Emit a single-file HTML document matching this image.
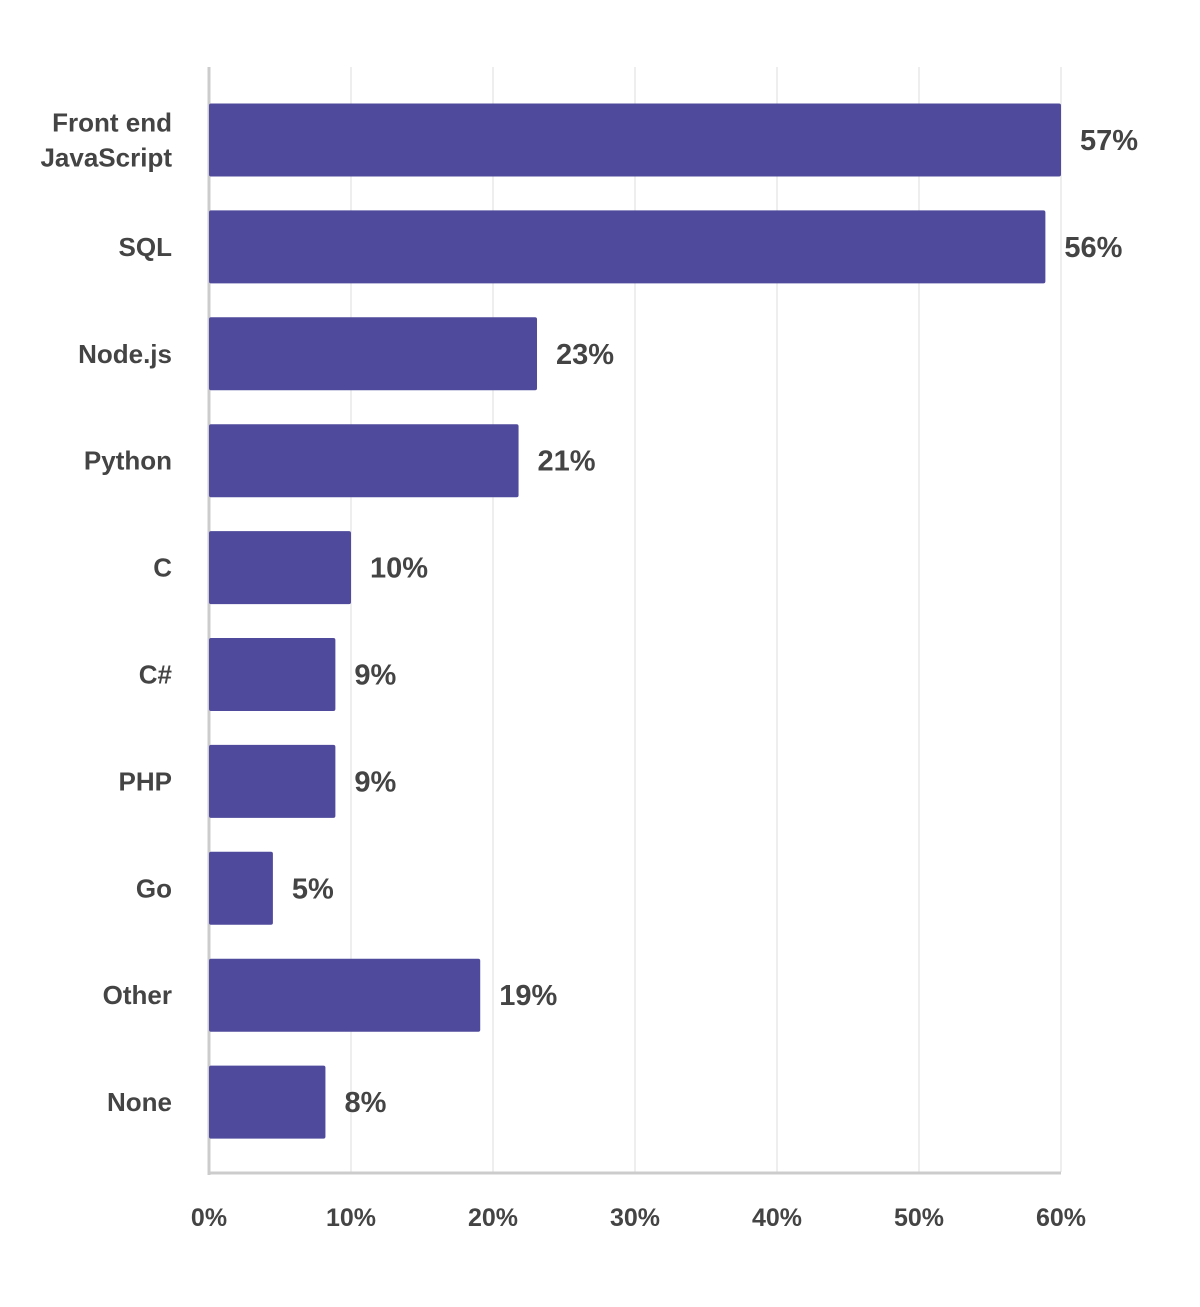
<!DOCTYPE html>
<html><head><meta charset="utf-8">
<style>
html,body{margin:0;padding:0;background:#fff;}
svg text{font-family:"Liberation Sans",Arial,sans-serif;font-weight:bold;fill:#444;}
</style></head>
<body>
<svg id="chart" width="1200" height="1302" viewBox="0 0 1200 1302" xmlns="http://www.w3.org/2000/svg"></svg>
<script>
const categories = [["Front end","JavaScript"],["SQL"],["Node.js"],["Python"],["C"],["C#"],["PHP"],["Go"],["Other"],["None"]];
const values = [60, 58.9, 23.1, 21.8, 10, 8.9, 8.9, 4.5, 19.1, 8.2];
const valueLabels = ["57%","56%","23%","21%","10%","9%","9%","5%","19%","8%"];
const ticks = [0,10,20,30,40,50,60];
const tickLabels = ["0%","10%","20%","30%","40%","50%","60%"];

const svg = document.getElementById('chart');
const NS = 'http://www.w3.org/2000/svg';
const x0 = 209, x1 = 1061, xmax = 60;
const xs = v => x0 + (x1 - x0) * v / xmax;
const rowY = i => 140 + i * 106.9;
const barH = 73;
function mk(tag, attrs){ const e = document.createElementNS(NS, tag); for (const k in attrs) e.setAttribute(k, attrs[k]); svg.appendChild(e); return e; }

ticks.forEach((t, i) => {
  if (t > 0) {
    const g = mk('line', {x1: xs(t), x2: xs(t), y1: 67, y2: 1172, stroke: '#eeeeee', 'stroke-width': 2});
    
    
  }
  const tl = mk('text', {x: xs(t), y: 1226, 'text-anchor': 'middle', 'font-size': 25});
  tl.textContent = tickLabels[i];
  
  
});

const ya = mk('line', {x1: x0, x2: x0, y1: 67, y2: 1175, stroke: '#cccccc', 'stroke-width': 3});


const xa = mk('line', {x1: x0, x2: x1, y1: 1173, y2: 1173, stroke: '#cccccc', 'stroke-width': 3});



values.forEach((v, i) => {
  const cy = rowY(i);
  const b = mk('rect', {x: x0, y: cy - barH / 2, width: xs(v) - x0, height: barH, rx: 2, fill: '#4f4a9c'});
  
  
  const vl = mk('text', {x: xs(v) + 19, y: cy + 10, 'font-size': 29});
  vl.textContent = valueLabels[i];
  
  
  const lines = categories[i];
  lines.forEach((ln, j) => {
    const t = mk('text', {x: 172, y: cy + 9 + (j - (lines.length - 1) / 2) * 35, 'text-anchor': 'end', 'font-size': 26});
    t.textContent = ln;
    
    
  });
});
</script>
</body></html>
